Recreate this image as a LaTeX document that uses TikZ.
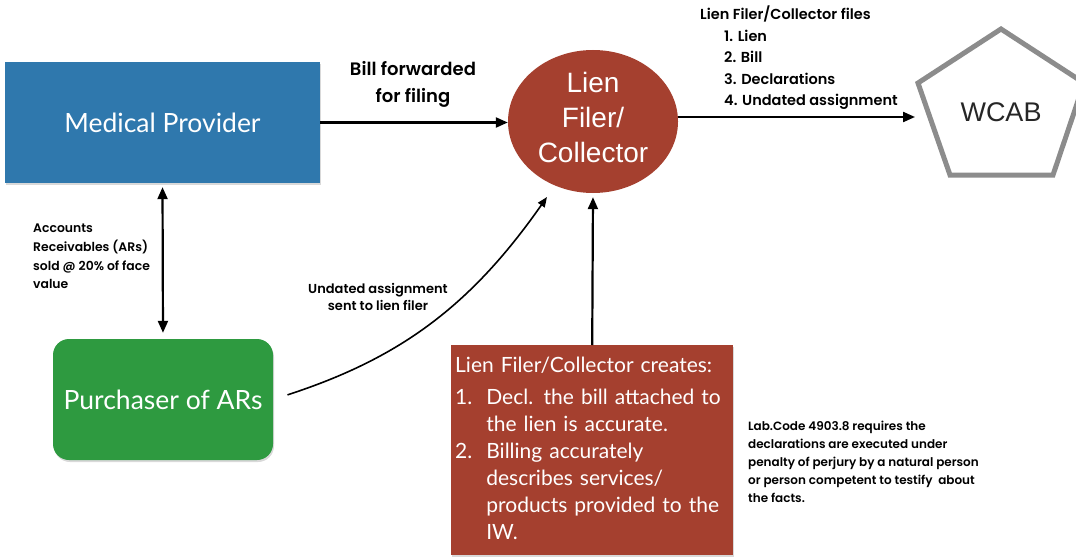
\documentclass[tikz,border=0pt]{standalone}
\usepackage{fontspec}
\setmainfont{Lato}
\newfontfamily\helv{Liberation Sans}
\newfontfamily\labfont{Poppins}[BoldFont={Poppins SemiBold}]
\usetikzlibrary{positioning,shapes,shadows,arrows.meta}

\definecolor{provblue}{HTML}{2F78AD}
\definecolor{purgreen}{HTML}{2E9A40}
\definecolor{lienred}{HTML}{A5402F}
\definecolor{wcabgray}{HTML}{8C8C8C}

\begin{document}
\begin{tikzpicture}[x=1pt,y=-1pt,
  box/.style={text=white,font=\fontsize{26.5}{30}\selectfont,
    drop shadow={shadow xshift=1pt,shadow yshift=-2pt,opacity=.3}},
  note/.style={font=\labfont\bfseries\fontsize{12}{18}\selectfont,align=left,inner sep=0pt},
  tip/.tip={Triangle[length=12pt,width=10pt]},
  link/.style={line width=2.2pt,-tip}]
\useasboundingbox (0,0) rectangle (1076,559);

% the four parties
\path (162.5,122.5) node[box,fill=provblue,minimum width=315pt,minimum height=121pt] (provider) {Medical Provider};
\path (593,121.5) node[ellipse,fill=lienred,minimum width=170pt,minimum height=143pt,inner sep=0pt,
    text=white,font=\helv\fontsize{28}{35}\selectfont,align=center] (lien) {Lien\\Filer/\\Collector\\[-26pt]\mbox{}};
\path (163,399.5) node[box,fill=purgreen,rounded corners=16pt,minimum width=220pt,minimum height=121pt] (purchaser) {Purchaser of ARs};
\path (1001,112) node[font=\helv\fontsize{27}{30}\selectfont,text=black!85] (wcab) {WCAB};
\draw[line width=5pt,draw=wcabgray] (wcab) +(0,-83) -- +(-83,-29) -- +(-51,63) -- +(52,63) -- +(83,-29) -- cycle;
\coordinate (wcabin) at (915,117);
\coordinate (assigntip) at (547,197);

\path (451,345) node[box,fill=lienred,anchor=north west,minimum width=282pt,minimum height=210pt,
    inner xsep=4pt,text width=274pt,align=left,font=\fontsize{21}{27}\selectfont] (creates)
  {\begin{tabular}{@{}l@{\ \ }l@{}}
   \multicolumn{2}{@{}l@{}}{Lien Filer/Collector creates:}\\[5pt]
   1. & Decl. the bill attached to\\
      & the lien is accurate.\\
   2. & Billing accurately\\
      & describes services/\\
      & products provided to the\\
      & IW.
   \end{tabular}};

% connectors
\draw[link] (provider.east) -- (provider.east -| lien.west);
\draw[link] (lien.east |- wcabin) -- (wcabin);
\draw[link,tip-tip,shorten <=4pt,shorten >=6pt] (provider.south) -- (purchaser.north);
\draw[line width=1.6pt,-{Triangle[length=10pt,width=8pt]},shorten <=15pt] (purchaser.east) to[out=18,in=235] (assigntip);
\draw[link,shorten >=4pt] (creates.north) -- (lien.south);

% labels
\path (413,84.5) node[note,align=center,font=\labfont\bfseries\fontsize{18}{27}\selectfont] (billlbl) {Bill forwarded\\for filing};
\path (700,6) node[note,anchor=north west,font=\labfont\bfseries\fontsize{14.5}{21.5}\selectfont] (fileslbl)
  {Lien Filer/Collector files\\
   \hspace*{24pt}1. Lien\\
   \hspace*{24pt}2. Bill\\
   \hspace*{24pt}3. Declarations\\
   \hspace*{24pt}4. Undated assignment};
\path (33,224) node[note,anchor=north west,font=\labfont\bfseries\fontsize{12.4}{18.7}\selectfont] (arlbl) {Accounts\\Receivables (ARs)\\sold @ 20\% of face\\value};
\path (378,296.5) node[note,align=center,font=\labfont\bfseries\fontsize{13}{17}\selectfont] (assignlbl) {Undated assignment\\sent to lien filer};
\path (748,421) node[note,anchor=north west] (lawlbl)
  {Lab.Code 4903.8 requires the\\declarations are executed under\\penalty of perjury by a natural person\\or person competent to testify\ \ about\\the facts.};
\end{tikzpicture}
\end{document}
